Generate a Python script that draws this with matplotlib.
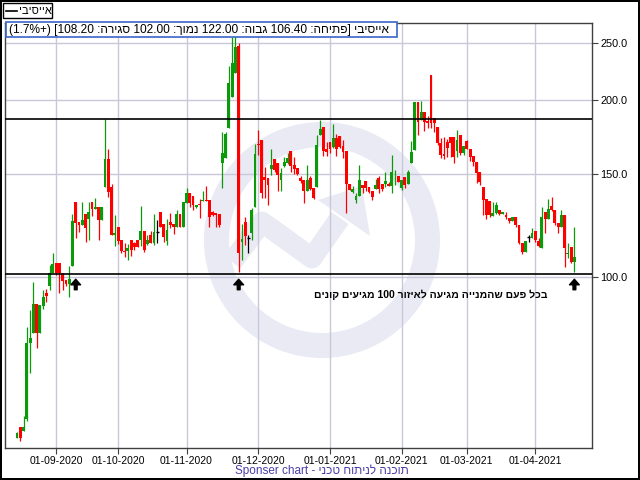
import re
import numpy as np
import matplotlib
matplotlib.use("Agg")
import matplotlib.pyplot as plt
from matplotlib.patches import Rectangle, Wedge, Polygon

plt.rcParams['font.family'] = ['Liberation Sans', 'DejaVu Sans']

# daily candles (open, high, low, close)
opens = [53.4, 55.8, 54.9, 57.4, 77.3, 80.4, 90.1, 80.6, 89.3, 94.0,
         96.6, 101.7, 105.7, 105.7, 101.7, 99.0, 97.5, 104.5, 134.3, 124.0,
         122.7, 128.1, 125.6, 134.3, 130.8, 131.6, 125.0, 142.4, 158.9, 142.4,
         118.0, 121.8, 115.7, 110.8, 110.8, 115.7, 114.3, 116.0, 116.0, 119.9,
         114.0, 118.0, 114.3, 119.4, 129.0, 123.3, 115.5, 124.2, 123.2, 121.8,
         128.1, 121.8, 134.0, 139.1, 137.5, 131.6, 133.5, 134.8, 135.2, 135.3,
         129.0, 128.6, 128.1, 156.5, 159.5, 179.4, 202.6, 222.6, 247.7, 114.8,
         124.2, 116.6, 119.0, 131.6, 168.6, 171.2, 148.0, 147.6, 152.8, 159.0,
         156.6, 146.4, 154.6, 156.5, 164.0, 155.2, 153.5, 147.6, 146.4, 140.1,
         147.6, 141.9, 142.4, 174.6, 179.9, 165.3, 169.9, 166.6, 172.5, 173.8,
         167.0, 163.9, 144.1, 139.7, 135.5, 137.5, 143.5, 145.9, 142.4, 140.1,
         141.3, 147.6, 144.1, 144.1, 144.1, 143.0, 146.2, 149.0, 141.9, 148.2,
         144.1, 156.5, 164.6, 198.7, 185.2, 191.3, 184.7, 220.8, 186.4, 180.1,
         169.2, 162.2, 170.0, 173.6, 173.6, 164.0, 174.6, 162.7, 170.5, 165.3,
         160.9, 157.1, 150.9, 142.4, 135.8, 134.8, 127.1, 128.6, 130.1, 128.1,
         127.6, 126.2, 124.7, 126.6, 122.7, 114.4, 110.4, 117.0, 116.6, 119.9,
         115.3, 112.1, 129.0, 125.6, 132.2, 130.1, 123.7, 121.8, 127.6, 109.6,
         112.6, 106.4]
highs = [54.7, 55.8, 58.1, 82.3, 88.0, 98.2, 90.1, 89.7, 95.1, 95.5,
         104.9, 110.0, 105.7, 105.7, 101.7, 99.0, 104.5, 128.1, 134.3, 124.0,
         134.3, 128.1, 134.3, 134.3, 136.3, 131.6, 131.6, 185.8, 165.3, 144.1,
         127.6, 121.8, 115.7, 114.4, 114.0, 115.7, 115.0, 116.0, 132.2, 119.9,
         118.0, 119.9, 128.0, 125.0, 129.0, 123.3, 125.6, 128.6, 123.2, 130.0,
         128.1, 134.3, 142.0, 139.1, 137.5, 132.6, 136.0, 140.0, 143.0, 135.3,
         129.5, 128.6, 128.1, 176.6, 177.0, 228.8, 256.3, 262.0, 250.0, 123.2,
         126.6, 118.0, 131.2, 168.6, 178.0, 171.2, 154.0, 147.6, 165.3, 159.0,
         156.6, 153.5, 160.0, 163.0, 164.0, 160.0, 153.5, 149.0, 146.4, 155.2,
         148.5, 141.9, 174.6, 185.2, 179.9, 170.0, 169.9, 182.3, 175.0, 173.8,
         171.0, 163.9, 144.1, 143.0, 139.0, 155.2, 143.5, 145.9, 142.4, 140.1,
         147.0, 148.8, 144.1, 151.0, 145.3, 161.2, 152.5, 149.0, 146.4, 148.2,
         152.0, 170.5, 198.7, 198.7, 199.5, 191.3, 187.8, 220.8, 186.4, 180.1,
         172.6, 173.4, 172.0, 173.6, 173.6, 178.0, 174.6, 167.3, 171.0, 165.3,
         160.9, 157.1, 150.9, 142.4, 135.8, 134.8, 134.3, 134.3, 130.1, 129.0,
         129.0, 126.2, 126.6, 126.6, 122.7, 114.4, 115.3, 117.9, 121.3, 119.9,
         116.5, 131.6, 129.0, 135.8, 136.9, 130.1, 123.7, 130.1, 127.6, 114.4,
         112.6, 122.0]
lows = [53.3, 52.7, 54.9, 57.0, 68.7, 80.4, 75.8, 80.6, 88.5, 90.8,
        95.1, 101.7, 101.0, 94.0, 95.1, 96.6, 92.6, 104.5, 116.6, 119.4,
        122.7, 114.8, 115.7, 127.0, 130.8, 115.7, 125.0, 142.4, 136.9, 118.0,
        113.0, 113.9, 110.0, 108.3, 107.0, 108.7, 111.5, 112.6, 113.0, 110.5,
        113.5, 114.3, 113.5, 114.3, 121.7, 115.0, 113.5, 121.3, 118.5, 121.8,
        121.8, 121.8, 134.0, 131.6, 130.1, 131.0, 126.2, 134.8, 134.8, 121.7,
        127.0, 121.8, 121.8, 141.9, 159.5, 179.4, 202.6, 222.6, 102.1, 107.0,
        113.5, 110.0, 115.7, 131.6, 161.6, 136.4, 136.4, 132.7, 149.6, 151.0,
        140.0, 140.0, 154.0, 156.0, 151.0, 150.0, 149.5, 144.7, 133.8, 140.1,
        141.0, 135.8, 142.4, 174.6, 161.0, 161.0, 163.0, 166.0, 161.0, 166.0,
        159.8, 128.6, 140.8, 139.0, 133.8, 137.5, 139.0, 140.0, 139.3, 135.3,
        141.3, 139.0, 140.5, 142.4, 142.8, 139.0, 143.5, 145.3, 141.0, 142.0,
        144.1, 156.5, 164.6, 174.6, 185.2, 177.4, 179.4, 179.4, 176.4, 168.0,
        159.5, 159.0, 160.0, 160.0, 156.5, 160.0, 161.5, 161.6, 165.0, 158.0,
        154.6, 144.7, 143.5, 127.6, 125.6, 126.6, 127.1, 128.2, 127.6, 128.1,
        125.6, 123.7, 124.7, 121.8, 114.0, 109.5, 110.4, 114.8, 116.6, 115.0,
        112.6, 112.1, 119.0, 125.6, 129.6, 122.7, 119.0, 121.8, 104.1, 107.8,
        105.8, 102.0]
closes = [54.3, 53.4, 55.6, 77.3, 78.8, 90.1, 80.6, 89.7, 92.6, 92.9,
          101.7, 105.3, 101.7, 101.7, 98.7, 97.5, 99.3, 124.7, 123.7, 122.7,
          125.1, 121.3, 129.0, 130.8, 131.6, 125.0, 131.6, 158.9, 139.7, 118.0,
          119.0, 115.3, 110.8, 110.4, 112.1, 111.3, 112.6, 112.6, 119.9, 111.3,
          116.0, 114.3, 119.4, 119.4, 121.7, 117.0, 120.3, 122.7, 121.8, 128.1,
          121.8, 134.3, 139.1, 134.0, 132.6, 132.6, 132.6, 135.2, 134.8, 126.5,
          127.6, 127.6, 122.7, 162.7, 175.3, 214.0, 231.4, 246.4, 110.0, 116.2,
          117.6, 116.6, 130.1, 162.2, 167.7, 139.1, 146.4, 143.5, 155.2, 152.2,
          149.6, 150.3, 157.0, 159.5, 154.6, 152.8, 150.0, 145.9, 140.1, 146.4,
          141.3, 136.4, 168.0, 178.6, 164.0, 163.4, 165.3, 172.5, 165.3, 166.6,
          163.4, 144.1, 141.0, 141.6, 137.5, 146.4, 141.9, 141.9, 139.7, 137.0,
          143.5, 141.3, 141.3, 145.9, 143.0, 151.0, 146.6, 145.3, 146.4, 143.5,
          151.0, 163.4, 198.7, 184.1, 191.3, 184.1, 183.2, 183.2, 183.2, 169.4,
          161.2, 160.9, 166.0, 169.2, 160.2, 171.2, 162.7, 167.3, 165.3, 160.2,
          157.1, 150.3, 145.3, 135.3, 127.6, 127.6, 128.6, 132.7, 128.1, 129.0,
          126.6, 124.7, 126.6, 122.7, 114.4, 110.4, 115.3, 117.0, 118.9, 115.7,
          113.0, 126.6, 125.6, 130.6, 130.1, 123.7, 121.8, 127.6, 112.1, 110.0,
          106.4, 108.2]

month_labels = ['01-09-2020', '01-10-2020', '01-11-2020', '01-12-2020',
                '01-01-2021', '01-02-2021', '01-03-2021', '01-04-2021']
month_first_bar = [12, 31, 52, 74, 96, 118, 138, 159]
price_ticks = [100, 150, 200, 250]
level_lines = [185.8, 101.3]
arrow_bars = [18, 68, 171]

name = 'אייסיבי'
header = 'אייסיבי [פתיחה: 106.40 גבוה: 122.00 נמוך: 102.00 סגירה: 108.20] (+1.7%)'
note = 'בכל פעם שהמנייה מגיעה לאיזור 100 מגיעים קונים'
footer = 'תוכנה לניתוח טכני - Sponser chart'


def visual(s):
    # crude bidi: rtl paragraph -> left-to-right glyph order
    r = s[::-1]
    r = re.sub(r'[A-Za-z0-9.%]+(?: [A-Za-z0-9.%]+)*', lambda m: m.group(0)[::-1], r)
    return r.translate(str.maketrans('()[]', ')(]['))


W, H = 640, 480
fig = plt.figure(figsize=(6.4, 4.8), dpi=100, facecolor='white',
                 edgecolor='black', linewidth=1.5)

# watermark layer (pixel coords)
wm = fig.add_axes([0, 0, 1, 1], zorder=0)
wm.set_xlim(0, W)
wm.set_ylim(H, 0)
wm.axis('off')
wcol = '#eaeaf5'
wm.add_patch(Wedge((322, 240), 118, 0, 360, width=25, color=wcol, lw=0))
wm.plot([232, 262, 312, 340], [262, 222, 258, 218], color=wcol, lw=15,
        solid_capstyle='butt', solid_joinstyle='round')
wm.add_patch(Polygon([(362, 186), (318, 200), (370, 236)], closed=True, color=wcol, lw=0))

# main chart
ax = fig.add_axes([5 / W, 1 - 448 / H, 587 / W, 425 / H], zorder=1)
ax.set_facecolor('none')
ax.set_yscale('log')

o = np.array(opens)
h = np.array(highs)
l = np.array(lows)
c = np.array(closes)
idx = np.arange(len(o))
col = np.where(c > o, '#0a9a0a', np.where(c < o, '#ff0000', 'black'))

ax.vlines(idx, l, h, colors=col, lw=0.9, zorder=3)
body_lo = np.minimum(o, c)
body_hi = np.maximum(o, c)
ax.bar(idx, body_hi - body_lo, bottom=body_lo, width=0.88, color=col,
       lw=0, zorder=4)
flat = c == o
ax.hlines(o[flat], idx[flat] - 0.45, idx[flat] + 0.45, colors='black', lw=1, zorder=4)

for v in level_lines:
    ax.axhline(v, color='black', lw=1.2, zorder=5)

for b in arrow_bars:
    ax.annotate('', xy=(b, 99.3), xytext=(b, 95.3),
                arrowprops=dict(facecolor='black', edgecolor='black', width=2,
                                headwidth=7, headlength=4, shrink=0), zorder=6)

ax.text(127, 93.6, visual(note), ha='center', va='center', fontsize=7.5,
        fontweight='bold', zorder=6)

ax.set_xlim(-3.7, 176.4)
ax.set_ylim(51.3, 270.7)
ax.set_xticks(month_first_bar)
ax.set_xticklabels(month_labels, fontsize=7.5)
ax.yaxis.tick_right()
ax.set_yticks(price_ticks)
ax.set_yticklabels(['%.1f' % v for v in price_ticks], fontsize=7.8)
ax.yaxis.set_minor_locator(matplotlib.ticker.NullLocator())
ax.tick_params(axis='both', length=4, width=0.8, color='#404040', pad=2)
ax.grid(True, color='#c8c8da', lw=1, zorder=1)
ax.set_axisbelow(True)
for sp in ax.spines.values():
    sp.set_color('#404040')
    sp.set_linewidth(1)

# legend boxes and footer (pixel coords)
top = fig.add_axes([0, 0, 1, 1], zorder=3)
top.set_xlim(0, W)
top.set_ylim(H, 0)
top.axis('off')
top.add_patch(Rectangle((3, 3), 49, 15, facecolor='white', edgecolor='black', lw=1))
top.plot([6, 17], [10.5, 10.5], color='black', lw=1.2)
top.text(19, 11, visual(name), ha='left', va='center', fontsize=8)
top.add_patch(Rectangle((6, 22), 391, 15, facecolor='white', edgecolor='#3a66c8', lw=1.2))
top.text(9, 30, visual(header), ha='left', va='center', fontsize=8.6)
top.text(322, 471, visual(footer), ha='center', va='center', fontsize=8.5,
         color='#4a3ea8')

fig.savefig('out.png', dpi=100)
